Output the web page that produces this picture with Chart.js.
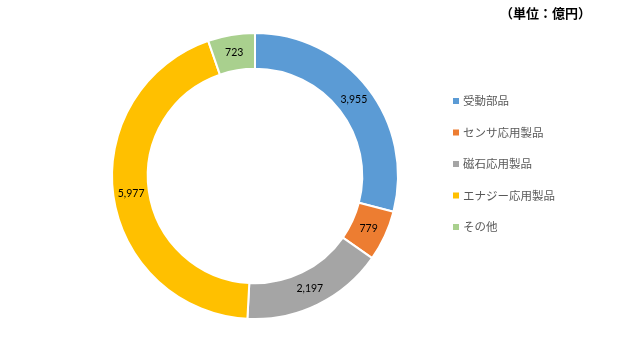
<!DOCTYPE html>
<html>
<head>
<meta charset="utf-8">
<script src="https://cdn.jsdelivr.net/npm/chart.js@4"></script>
<style>
  html, body { margin: 0; padding: 0; background: #fff; }
  #wrap { width: 624px; height: 351px; }
</style>
</head>
<body>
<div id="wrap"><canvas id="donut" width="624" height="351"></canvas></div>
<script>
const categories = ['受動部品', 'センサ応用製品', '磁石応用製品', 'エナジー応用製品', 'その他'];
const values = [3955, 779, 2197, 5977, 723];
const colors = ['#5B9BD5', '#ED7D31', '#A5A5A5', '#FFC000', '#A9D08E'];
const unitLabel = '（単位：億円）';

// value labels in the middle of each ring segment
const sliceLabels = {
  id: 'sliceLabels',
  afterDatasetsDraw(chart) {
    const ctx = chart.ctx;
    const meta = chart.getDatasetMeta(0);
    ctx.save();
    ctx.font = '10.5px Lato, "Open Sans", sans-serif';
    ctx.fillStyle = '#000';
    ctx.textAlign = 'center';
    ctx.textBaseline = 'middle';
    meta.data.forEach((arc, i) => {
      const p = arc.tooltipPosition();
      ctx.fillText(values[i].toLocaleString('en-US'), p.x, p.y);
    });
    ctx.restore();
  }
};

// legend on the right + unit text top right
const sideLegend = {
  id: 'sideLegend',
  afterDraw(chart) {
    const ctx = chart.ctx;
    ctx.save();
    ctx.textBaseline = 'middle';
    ctx.font = '11.5px "Noto Sans CJK JP", sans-serif';
    chart.data.labels.forEach((lab, i) => {
      const y = 101 + i * 31.5;
      ctx.fillStyle = colors[i];
      ctx.fillRect(453, y - 3, 6, 6);
      ctx.fillStyle = '#595959';
      ctx.textAlign = 'left';
      ctx.fillText(lab, 463, y);
    });
    ctx.font = 'bold 13px "Noto Sans CJK JP", sans-serif';
    ctx.fillStyle = '#000';
    ctx.textAlign = 'left';
    ctx.fillText(unitLabel, 500, 13);
    ctx.restore();
  }
};

new Chart(document.getElementById('donut'), {
  type: 'doughnut',
  data: {
    labels: categories,
    datasets: [{
      data: values,
      backgroundColor: colors,
      borderColor: '#fff',
      borderWidth: 2
    }]
  },
  options: {
    responsive: false,
    animation: false,
    cutout: '75%',
    layout: { padding: { top: 32, bottom: 31, left: 111, right: 225 } },
    plugins: {
      legend: { display: false },
      tooltip: { enabled: false }
    }
  },
  plugins: [sliceLabels, sideLegend]
});
</script>
</body>
</html>
